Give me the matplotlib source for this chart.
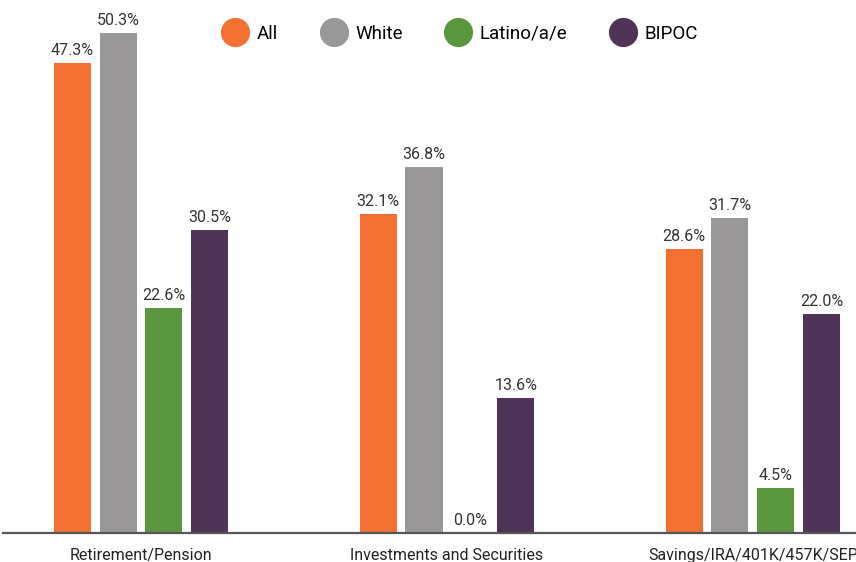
import matplotlib
matplotlib.use('Agg')
import matplotlib.pyplot as plt
import numpy as np

categories = ['Retirement/Pension', 'Investments and Securities', 'Savings/IRA/401K/457K/SEP']
groups = ['All', 'White', 'Latino/a/e', 'BIPOC']
all_vals = [47.3, 32.1, 28.6]
white_vals = [50.3, 36.8, 31.7]
latino_vals = [22.6, 0.0, 4.5]
bipoc_vals = [30.5, 13.6, 22.0]

colors = ['#F37032', '#999797', '#5A963E', '#4F3359']
series = [all_vals, white_vals, latino_vals, bipoc_vals]

plt.rcParams['font.family'] = ['Roboto', 'DejaVu Sans']

fig = plt.figure(figsize=(8.56, 5.62), dpi=100, facecolor='w')
ax = fig.add_axes([3/856, 29/562, 853/856, 533/562])

x = np.arange(len(categories))
width = 0.121
step = 0.150
for i, (vals, col, name) in enumerate(zip(series, colors, groups)):
    pos = x + (i - 1.5) * step
    ax.bar(pos, vals, width, color=col, label=name, zorder=2)
    for p, v in zip(pos, vals):
        ax.text(p, v + 0.5, '%.1f%%' % v, ha='center', va='bottom', fontsize=11.5, color='#333333')

ax.set_xlim(-0.451, 2.337)
ax.set_ylim(0, 53.6)
ax.set_yticks([])
ax.set_xticks(x)
ax.set_xticklabels(categories, fontsize=11.5, color='#222222')
ax.tick_params(axis='x', length=0, pad=11)
for s in ['top', 'right', 'left']:
    ax.spines[s].set_visible(False)
ax.spines['bottom'].set_color('#555555')
ax.spines['bottom'].set_linewidth(1.6)

handles = [plt.Line2D([], [], marker='o', linestyle='', markersize=20, color=c) for c in colors]
fig.legend(handles, groups, loc='center', bbox_to_anchor=(0.534, 0.94), ncol=4, frameon=False,
           fontsize=13.5, handletextpad=0.15, columnspacing=1.95)

plt.savefig('out.png', dpi=100)
plt.close()
